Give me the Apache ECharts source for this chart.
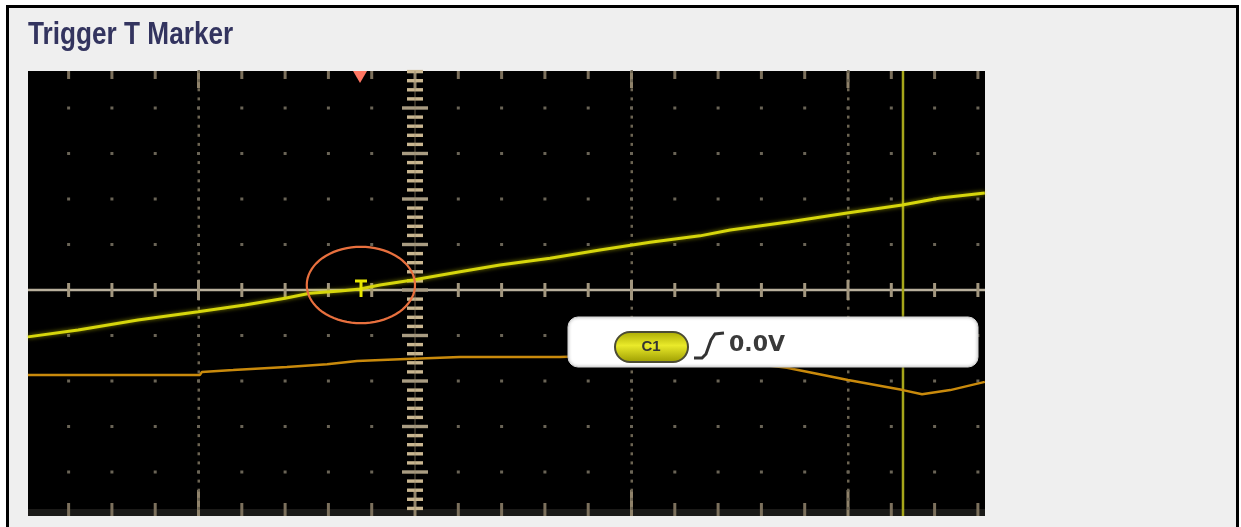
<!DOCTYPE html>
<html><head><meta charset="utf-8">
<script src="https://cdn.jsdelivr.net/npm/echarts@6/dist/echarts.min.js"></script>
<style>
html,body{margin:0;padding:0;background:#fff;width:1241px;height:527px;overflow:hidden;}
#frame{position:absolute;left:6px;top:5px;width:1227px;height:600px;border:3px solid #000;background:#efefef;}
#chart{position:absolute;left:0;top:0;width:1241px;height:527px;}
</style></head><body>
<div id="frame"></div><div id="chart"></div>
<script>
// Horizontal: minor graticule divisions relative to screen centre; vertical: minor divisions relative to centre line
const c1Time  = [-8.94,-7.78,-6.40,-5.01,-3.93,-3.00,-2.43,-1.73,-1.27,-0.81,-0.05,1.04,1.96,3.12,4.27,5.43,6.58,7.28,8.66,9.98,11.25,12.13,13.16];
const c1Level = [-1.03,-0.88,-0.66,-0.48,-0.33,-0.18,-0.07,-0.02,0.02,0.11,0.22,0.40,0.55,0.70,0.88,1.05,1.19,1.32,1.50,1.69,1.87,2.02,2.13];
const c2Time  = [-8.94,-4.97,-4.92,-4.20,-2.96,-2.03,-1.34,-0.35,1.04,3.35,4.73,6.12,7.51,8.59,10.00,11.27,11.71,12.36,13.16];
const c2Level = [-1.87,-1.87,-1.80,-1.76,-1.69,-1.63,-1.56,-1.52,-1.47,-1.47,-1.43,-1.45,-1.58,-1.71,-1.98,-2.20,-2.29,-2.20,-2.02];
const cursorTime   = [11.27];
const triggerTime  = [-1.27];
const triggerLevel = [0.0];
const circleCenter = [-1.25, 0.11];
const circleRadius = [1.25, 0.84];
const readoutLabels = ['C1', '0.0V'];
const titleText = 'Trigger T Marker';

const X_MIN = -8.938, X_MAX = 13.164, Y_MIN = -4.967, Y_MAX = 4.813;

const chart = echarts.init(document.getElementById('chart'), null, {renderer: 'canvas'});

function graticule(params, api) {
  const cs = params.coordSys;
  const left = cs.x, top = cs.y, right = cs.x + cs.width, bottom = cs.y + cs.height;
  const ch = [];
  ch.push({type:'rect', shape:{x:left, y:top, width:cs.width, height:cs.height}, style:{fill:'#000'}});
  ch.push({type:'rect', shape:{x:left, y:bottom-7, width:cs.width, height:7}, style:{fill:'#1b1a18'}});
  const x0 = api.coord([0,0])[0], y0 = api.coord([0,0])[1];
  for (let k = Math.ceil(X_MIN); k <= Math.floor(X_MAX); k++) {
    const px = api.coord([k,0])[0];
    const major = (k % 5 === 0);
    ch.push({type:'rect', shape:{x:px-1.5, y:top, width:3, height: major?17:8}, style:{fill: major?'#8f826a':'#7c705c'}});
    ch.push({type:'rect', shape:{x:px-1.5, y:bottom-(major?26:13), width:3, height: major?26:13}, style:{fill: major?'#8f826a':'#7c705c'}});
    if (major && k !== 0) {
      for (let t = Math.ceil(Y_MIN*5); t <= Math.floor(Y_MAX*5); t++) {
        const py = api.coord([0,t/5])[1];
        ch.push({type:'rect', shape:{x:px-1, y:py-1.5, width:2.5, height:3}, style:{fill:'#6c6452'}});
      }
    }
    if (k !== 0) {
      for (let j = Math.ceil(Y_MIN); j <= Math.floor(Y_MAX); j++) {
        if (j === 0) continue;
        const py = api.coord([0,j])[1];
        ch.push({type:'rect', shape:{x:px-1.5, y:py-1.5, width:3, height:3}, style:{fill:'#6a6456'}});
      }
    }
  }
  ch.push({type:'line', shape:{x1:left, y1:y0, x2:right, y2:y0}, style:{stroke:'#b9b09d', lineWidth:2.5}});
  for (let k = Math.ceil(X_MIN); k <= Math.floor(X_MAX); k++) {
    if (k === 0) continue;
    const px = api.coord([k,0])[0];
    const h = (k % 5 === 0) ? 10 : 7;
    ch.push({type:'line', shape:{x1:px, y1:y0-h, x2:px, y2:y0+h}, style:{stroke:'#a2967e', lineWidth:3}});
  }
  for (let t = Math.ceil(Y_MIN*5); t <= Math.floor(Y_MAX*5); t++) {
    const py = api.coord([0,t/5])[1];
    const big = (t % 5 === 0);
    const w = big ? 13 : 8;
    ch.push({type:'line', shape:{x1:x0-w, y1:py, x2:x0+w, y2:py}, style:{stroke: big?'#a99c82':'#c9b690', lineWidth:3.4}});
  }
  ch.push({type:'line', shape:{x1:x0, y1:top, x2:x0, y2:bottom}, style:{stroke:'rgba(150,135,105,0.35)', lineWidth:2}});
  return {type:'group', children: ch};
}

function cursor(params, api) {
  const cs = params.coordSys;
  const px = api.coord([api.value(0), 0])[0];
  return {type:'line', shape:{x1:px, y1:cs.y, x2:px, y2:cs.y+cs.height}, style:{stroke:'#a6a61a', lineWidth:2.5}};
}

function trigMarker(params, api) {
  const p = api.coord([api.value(0), api.value(1)]);
  const x = p[0] + 1, y = p[1];
  return {type:'group', children:[
    {type:'line', shape:{x1:x-6, y1:y-9, x2:x+6, y2:y-9}, style:{stroke:'#e8e800', lineWidth:3}},
    {type:'line', shape:{x1:x, y1:y-9, x2:x, y2:y+7}, style:{stroke:'#e8e800', lineWidth:3}}
  ]};
}

function ring(params, api) {
  const c = api.coord([circleCenter[0], circleCenter[1]]);
  const e = api.coord([circleCenter[0] + circleRadius[0], circleCenter[1] + circleRadius[1]]);
  const rx = e[0] - c[0], ry = c[1] - e[1];
  const pts = [];
  for (let i = 0; i < 72; i++) {
    const a = i / 72 * Math.PI * 2;
    pts.push([c[0] + rx * Math.cos(a), c[1] + ry * Math.sin(a)]);
  }
  return {type:'polygon', shape:{points: pts}, style:{fill:'none', stroke:'#e8703e', lineWidth:2.2}};
}

function trigPos(params, api) {
  const cs = params.coordSys;
  const px = api.coord([api.value(0), 0])[0];
  return {type:'polygon', shape:{points:[[px-7, cs.y],[px+7, cs.y],[px, cs.y+12]]}, style:{fill:'#ff7662'}};
}

const option = {
  animation: false,
  grid: {left: 28, top: 71, width: 957, height: 445, containLabel: false},
  xAxis: {type:'value', min: X_MIN, max: X_MAX, show: false},
  yAxis: {type:'value', min: Y_MIN, max: Y_MAX, show: false},
  series: [
    {type:'custom', renderItem: graticule, data:[[0,0]], z:1, silent:true, clip:false},
    {type:'custom', renderItem: cursor, data: cursorTime.map(t => [t, 0]), z:2, silent:true},
    {type:'line', data: c2Time.map((t,i) => [t, c2Level[i]]), symbol:'none', z:3,
      lineStyle:{color:'#c98a0c', width:2.5}},
    {type:'line', data: c1Time.map((t,i) => [t, c1Level[i]]), symbol:'none', z:4,
      lineStyle:{color:'#d6d60c', width:3, shadowBlur:4, shadowColor:'rgba(230,230,0,0.6)'}},
    {type:'custom', renderItem: ring, data:[[0,0]], z:5, silent:true},
    {type:'custom', renderItem: trigMarker, data: triggerTime.map((t,i) => [t, triggerLevel[i]]), z:6, silent:true},
    {type:'custom', renderItem: trigPos, data: triggerTime.map(t => [t, 0]), z:6, silent:true}
  ],
  graphic: [
    {type:'text', z:100, x:28, y:20, scaleX:0.845, originX:0, originY:0,
      style:{text: titleText, fill:'#33345f', font:'bold 31px "Liberation Sans", Arial, sans-serif', align:'left', verticalAlign:'top'}},
    {type:'rect', z:100, shape:{x:568, y:317, width:410, height:50, r:10},
      style:{fill:'#ffffff', stroke:'#d8d8d8', lineWidth:1, shadowBlur:3, shadowColor:'rgba(0,0,0,0.5)'}},
    {type:'rect', z:101, shape:{x:615, y:332, width:73, height:30, r:15},
      style:{fill: new echarts.graphic.LinearGradient(0,0,0,1,[{offset:0,color:'#a8a800'},{offset:0.45,color:'#eaea2a'},{offset:1,color:'#9a9a00'}]),
        stroke:'#4c4c34', lineWidth:2}},
    {type:'text', z:102, x:651, y:347, style:{text: readoutLabels[0], fill:'#333', font:'bold 15px "Liberation Sans", sans-serif', align:'center', verticalAlign:'middle'}},
    {type:'polyline', z:102, shape:{points:[[694,358],[702,358],[706,354],[711,340],[715,334],[724,333]]}, style:{stroke:'#333', lineWidth:3, fill:'none'}},
    {type:'text', z:102, x:729, y:345, style:{text: readoutLabels[1], fill:'#3a3a3a', font:'bold 22px "DejaVu Sans", sans-serif', align:'left', verticalAlign:'middle'}}
  ]
};
chart.setOption(option);
</script>
</body></html>
